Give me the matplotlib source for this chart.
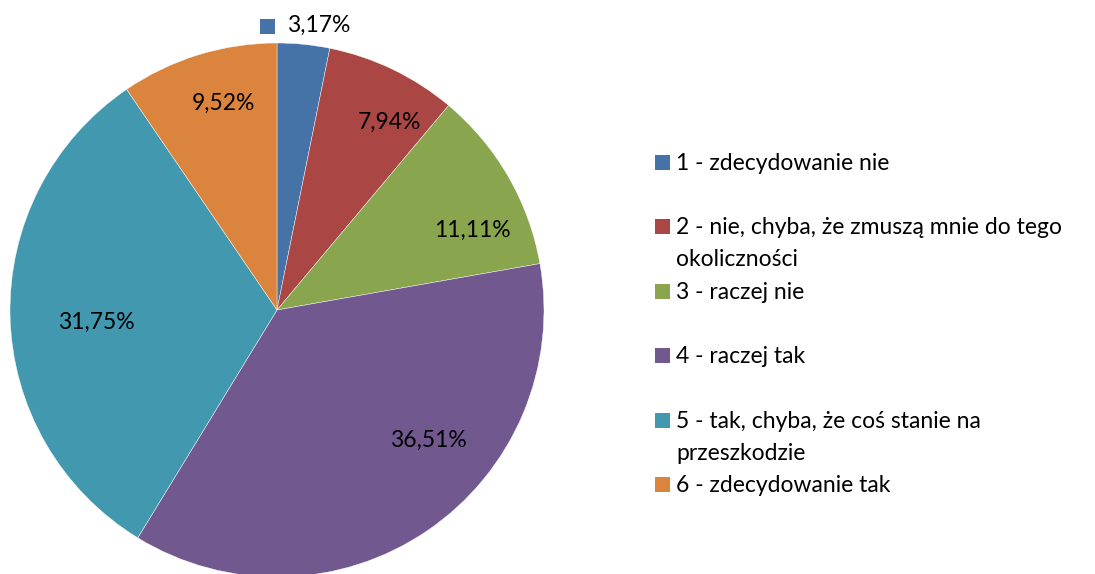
import numpy as np
import matplotlib.pyplot as plt

plt.rcParams['font.family'] = ['Lato', 'DejaVu Sans']

# dane
kategorie = ["1 - zdecydowanie nie",
             "2 - nie, chyba, że zmuszą mnie do tego\nokoliczności",
             "3 - raczej nie",
             "4 - raczej tak",
             "5 - tak, chyba, że coś stanie na\nprzeszkodzie",
             "6 - zdecydowanie tak"]
procenty = [3.17, 7.94, 11.11, 36.51, 31.75, 9.52]
etykiety = ["3,17%", "7,94%", "11,11%", "36,51%", "31,75%", "9,52%"]
kolory = ["#4572A7", "#AA4643", "#89A54E", "#71588F", "#4198AF", "#DB843D"]

# przesuniecia etykiet (kat w stopniach, promien) - jak w Excelu "najlepsze dopasowanie"
przes_kat = [0, 5.3, 7.7, -15, -2.6, 2.5]
przes_r = [1.07, 0.82, 0.79, 0.75, 0.68, 0.80]

W, H = 1095, 574
fig = plt.figure(figsize=(W / 100, H / 100), dpi=100)

cx, cy, R = 277, 310, 267
ax = fig.add_axes([(cx - R) / W, (H - cy - R) / H, 2 * R / W, 2 * R / H])

wedges, _ = ax.pie(procenty, colors=kolory, startangle=90, counterclock=False,
                   radius=1, wedgeprops=dict(edgecolor='white', linewidth=0.3))
ax.set_xlim(-1, 1)
ax.set_ylim(-1, 1)
ax.set_aspect('equal')
ax.axis('off')

fs = 16.5
px = 1 / R  # 1 piksel w jednostkach danych
for i, w in enumerate(wedges):
    # kat srodkowy liczony od gory zgodnie z ruchem wskazowek
    mid = (90 - (w.theta1 + w.theta2) / 2) % 360
    a = np.deg2rad(mid + przes_kat[i])
    x = przes_r[i] * np.sin(a)
    y = przes_r[i] * np.cos(a)
    if i == 0:
        # etykieta z kluczem legendy, poza kolem
        ax.plot(x - 38.5 * px, y, marker='s', markersize=10.8, color=kolory[0],
                clip_on=False, markeredgewidth=0)
        ax.text(x - 18 * px, y, etykiety[i], ha='left', va='center',
                fontsize=fs, color='black')
    else:
        ax.text(x, y, etykiety[i], ha='center', va='center', fontsize=fs,
                color='black')

# legenda
y0 = 170
dy = 64.4
for i, k in enumerate(kategorie):
    yb = y0 + dy * i
    fig.patches.append(plt.Rectangle((655 / W, 1 - yb / H), 15 / W, 15 / H,
                                     transform=fig.transFigure,
                                     facecolor=kolory[i], edgecolor='none'))
    for j, linia in enumerate(k.split("\n")):
        fig.text(676 / W, 1 - (yb + 32 * j) / H, linia, ha='left',
                 va='baseline', fontsize=fs, color='black')

fig.savefig("out.png", dpi=100)
